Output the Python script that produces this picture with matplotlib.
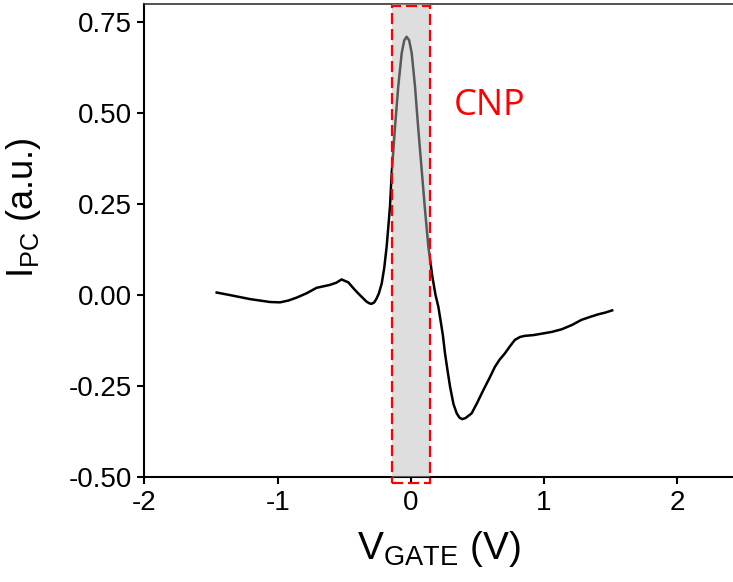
import matplotlib
matplotlib.use('Agg')
import matplotlib.pyplot as plt
from matplotlib.patches import Rectangle

# photocurrent vs gate voltage
v_gate = [-1.458, -1.358, -1.208, -1.058, -0.983, -0.920, -0.858, -0.783, -0.708,
          -0.608, -0.560, -0.520, -0.470, -0.420, -0.383, -0.333, -0.310, -0.295,
          -0.275, -0.257, -0.240, -0.219, -0.200, -0.182, -0.170, -0.157, -0.144,
          -0.119, -0.095, -0.069, -0.050, -0.032, -0.013, 0.006, 0.031, 0.056,
          0.081, 0.106, 0.131, 0.161, 0.185, 0.206, 0.218, 0.240, 0.256, 0.275,
          0.294, 0.320, 0.344, 0.365, 0.386, 0.410, 0.456, 0.495, 0.544, 0.590,
          0.631, 0.665, 0.706, 0.745, 0.781, 0.820, 0.856, 0.919, 0.983, 1.060,
          1.132, 1.210, 1.281, 1.345, 1.405, 1.460, 1.511]
i_pc = [0.007, 0.000, -0.011, -0.019, -0.020, -0.015, -0.007, 0.005, 0.020,
        0.028, 0.034, 0.043, 0.035, 0.014, 0.000, -0.018, -0.023, -0.024,
        -0.020, -0.009, 0.005, 0.032, 0.075, 0.133, 0.185, 0.243, 0.335,
        0.463, 0.573, 0.665, 0.700, 0.710, 0.700, 0.665, 0.573, 0.454,
        0.344, 0.234, 0.133, 0.051, 0.000, -0.032, -0.059, -0.110, -0.160, -0.207,
        -0.252, -0.300, -0.325, -0.337, -0.341, -0.338, -0.325, -0.298, -0.261, -0.228,
        -0.197, -0.178, -0.160, -0.140, -0.123, -0.115, -0.112, -0.110, -0.106, -0.101,
        -0.094, -0.082, -0.068, -0.060, -0.053, -0.048, -0.042]

cnp_lo, cnp_hi = -0.145, 0.145
xticks = [-2, -1, 0, 1, 2]
yticks = [-0.50, -0.25, 0.00, 0.25, 0.50, 0.75]

plt.rcParams['font.family'] = ['Liberation Sans', 'DejaVu Sans']
plt.rcParams['mathtext.fontset'] = 'custom'
plt.rcParams['mathtext.rm'] = 'Liberation Sans'
plt.rcParams['axes.unicode_minus'] = False

fig = plt.figure(figsize=(7.33, 5.82), dpi=100)
ax = fig.add_axes([0.1971, 0.1804, 0.8029, 0.8127])

ax.plot(v_gate, i_pc, color='black', lw=1.8, zorder=2)

# shaded CNP window (drawn over the curve so it looks grey there)
ax.axvspan(cnp_lo, cnp_hi, color='#bbbbbb', alpha=0.48, lw=0, zorder=3)
rect = Rectangle((cnp_lo, -0.517), cnp_hi - cnp_lo, 0.795 + 0.517, fill=False,
                 edgecolor='red', lw=1.6, linestyle=(0, (5, 2.2)), clip_on=False, zorder=4)
ax.add_patch(rect)
ax.text(0.59, 0.52, 'CNP', color='red', fontsize=26, family='Open Sans',
        ha='center', va='center')

ax.set_xlim(-2, 2.418)
ax.set_ylim(-0.5, 0.8)
ax.set_xticks(xticks)
ax.set_xticklabels([str(t) for t in xticks])
ax.set_yticks(yticks)
ax.set_yticklabels(['%.2f' % t for t in yticks])
ax.tick_params(direction='out', length=5, width=1.5, labelsize=20, pad=4)

ax.spines['right'].set_visible(False)
ax.spines['top'].set_color('#333333')
ax.spines['top'].set_linewidth(1.2)
ax.spines['left'].set_linewidth(1.5)
ax.spines['bottom'].set_linewidth(1.5)

ax.set_xlabel(r'V$_{\mathrm{GATE}}$ (V)', fontsize=28, labelpad=10)
ax.set_ylabel(r'I$_{\mathrm{PC}}$ (a.u.)', fontsize=26)
ax.yaxis.set_label_coords(-0.172, 0.57)

fig.savefig('out.png', dpi=100)
